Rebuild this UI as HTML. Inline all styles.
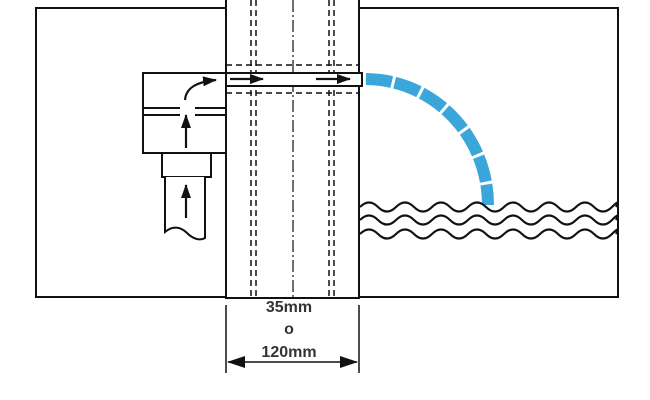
<!DOCTYPE html>
<html><head><meta charset="utf-8"><style>body{margin:0;background:#fff}svg{display:block}</style></head><body>
<svg width="650" height="400" viewBox="0 0 650 400" xmlns="http://www.w3.org/2000/svg">
<defs>
<marker id="ah" markerWidth="14" markerHeight="10" refX="13" refY="5" orient="auto" markerUnits="userSpaceOnUse"><path d="M0,0 L14,5 L0,10 Z" fill="#111"/></marker>
<marker id="ah2" markerWidth="18" markerHeight="12" refX="17" refY="6" orient="auto-start-reverse" markerUnits="userSpaceOnUse"><path d="M0,0 L18,6 L0,12 Z" fill="#111"/></marker>
</defs>
<g fill="none" stroke="#111" stroke-width="2">
<rect x="36" y="8" width="582" height="289"/>
</g>
<rect x="226" y="0" width="133" height="298" fill="#fff" stroke="#111" stroke-width="2"/>
<rect x="227" y="0" width="131" height="7" fill="#fff"/>
<g stroke="#111" stroke-width="1.5" stroke-dasharray="6,4" fill="none">
<line x1="251" y1="0" x2="251" y2="297"/><line x1="256" y1="0" x2="256" y2="297"/>
<line x1="329" y1="0" x2="329" y2="297"/><line x1="334" y1="0" x2="334" y2="297"/>
<line x1="226" y1="65" x2="359" y2="65"/><line x1="226" y1="93" x2="359" y2="93"/>
</g>
<line x1="293" y1="0" x2="293" y2="297" stroke="#111" stroke-width="1.2" stroke-dasharray="12,3,2,3"/>
<rect x="226" y="73" width="136" height="13" fill="#fff" stroke="#111" stroke-width="2"/>
<rect x="143" y="73" width="83" height="80" fill="#fff" stroke="#111" stroke-width="2"/>
<rect x="227" y="74" width="3" height="11" fill="#fff"/>
<g stroke="#111" stroke-width="2">
<line x1="144" y1="108" x2="180" y2="108"/><line x1="195" y1="108" x2="226" y2="108"/>
<line x1="144" y1="115" x2="180" y2="115"/><line x1="195" y1="115" x2="226" y2="115"/>
</g>
<rect x="162" y="153" width="49" height="24" fill="#fff" stroke="#111" stroke-width="2"/>
<path d="M165,177 V232 C172,226 180,226 187,233 C193,239 200,241 205,238 V177" fill="#fff" stroke="#111" stroke-width="2"/>
<g stroke="#111" stroke-width="2.2" fill="none" marker-end="url(#ah)">
<line x1="186" y1="148" x2="186" y2="115"/>
<line x1="186" y1="218" x2="186" y2="185"/>
<path d="M185,100 C186,88 196,82 216,80"/>
<line x1="230" y1="79" x2="263" y2="79"/>
<line x1="316" y1="79" x2="350" y2="79"/>
</g>
<path d="M366,79 A123 126 0 0 1 488,205" fill="none" stroke="#3ba6da" stroke-width="12" stroke-dasharray="26,3"/>
<g stroke="#111" stroke-width="2.2" fill="none">
<path d="M360,207 q9,-9 18,0 t18,0 t18,0 t18,0 t18,0 t18,0 t18,0 t18,0 t18,0 t18,0 t18,0 t18,0 t18,0 t18,0 t4,0"/>
<path d="M360,220 q9,-9 18,0 t18,0 t18,0 t18,0 t18,0 t18,0 t18,0 t18,0 t18,0 t18,0 t18,0 t18,0 t18,0 t18,0 t4,0"/>
<path d="M360,234 q9,-9 18,0 t18,0 t18,0 t18,0 t18,0 t18,0 t18,0 t18,0 t18,0 t18,0 t18,0 t18,0 t18,0 t18,0 t4,0"/>
</g>
<g stroke="#111" stroke-width="1.5">
<line x1="226" y1="305" x2="226" y2="373"/><line x1="359" y1="305" x2="359" y2="373"/>
<line x1="228" y1="362" x2="357" y2="362" marker-end="url(#ah2)" marker-start="url(#ah2)"/>
</g>
<g font-family="Liberation Sans, sans-serif" font-weight="bold" font-size="16" fill="#333" text-anchor="middle">
<text x="289" y="312">35mm</text>
<text x="289" y="334">o</text>
<text x="289" y="357">120mm</text>
</g>
</svg>
</body></html>
